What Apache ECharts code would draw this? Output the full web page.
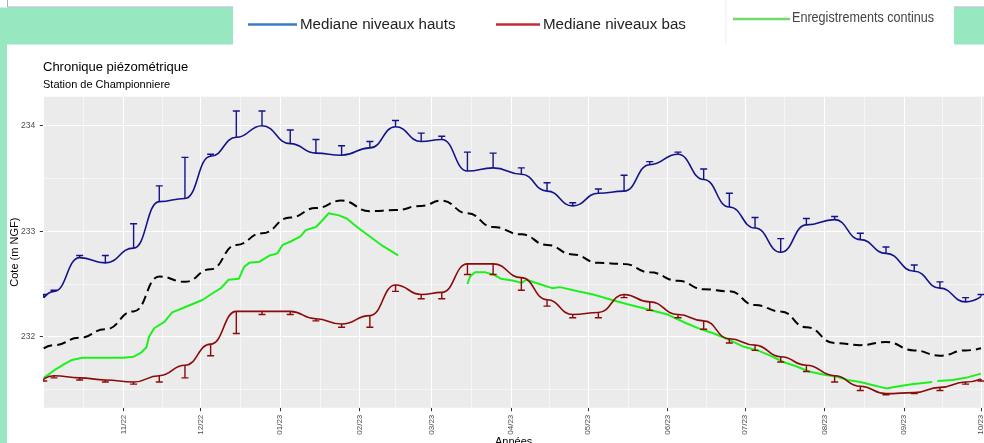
<!DOCTYPE html>
<html>
<head>
<meta charset="utf-8">
<title>Chronique piézométrique</title>
<script src="https://cdn.jsdelivr.net/npm/echarts@6/dist/echarts.min.js"></script>
<style>
  html, body { margin: 0; padding: 0; background: #fff; }
  #main { width: 984px; height: 443px; }
</style>
</head>
<body>
<div id="main"></div>
<script type="text/javascript">
// dates des médianes décadaires
var dekadDates = ['2022-10-01','2022-10-05','2022-10-15','2022-10-25','2022-11-05','2022-11-15','2022-11-25',
  '2022-12-05','2022-12-15','2022-12-25','2023-01-05','2023-01-15','2023-01-25','2023-02-05','2023-02-15',
  '2023-02-25','2023-03-05','2023-03-15','2023-03-25','2023-04-05','2023-04-15','2023-04-25','2023-05-05',
  '2023-05-15','2023-05-25','2023-06-05','2023-06-15','2023-06-25','2023-07-05','2023-07-15','2023-07-25',
  '2023-08-05','2023-08-15','2023-08-25','2023-09-05','2023-09-15','2023-09-25','2023-10-01'];

var hautsMediane = [232.37, 232.43, 232.75, 232.70, 232.84, 233.28, 233.31, 233.71, 233.89, 234.00,
  233.83, 233.74, 233.72, 233.79, 233.99, 233.85, 233.87, 233.57, 233.60, 233.54, 233.38, 233.24,
  233.36, 233.38, 233.63, 233.73, 233.49, 233.23, 233.03, 232.80, 233.06, 233.11, 232.92, 232.79,
  232.62, 232.46, 232.33, 232.38];
var hautsMax = [232.40, 232.44, 232.77, 232.77, 233.07, 233.43, 233.70, 233.73, 234.14, 234.14,
  233.96, 233.87, 233.81, 233.85, 234.05, 233.93, 233.90, 233.75, 233.74, 233.60, 233.46, 233.27,
  233.40, 233.53, 233.66, 233.75, 233.59, 233.36, 233.13, 232.93, 233.12, 233.14, 232.98, 232.85,
  232.68, 232.52, 232.37, 232.40];

var basMediane = [231.60, 231.63, 231.61, 231.59, 231.57, 231.63, 231.73, 231.93, 232.24, 232.24,
  232.24, 232.17, 232.12, 232.20, 232.49, 232.40, 232.42, 232.69, 232.69, 232.56, 232.35, 232.21,
  232.23, 232.40, 232.33, 232.21, 232.15, 231.98, 231.92, 231.81, 231.73, 231.63, 231.53, 231.46,
  231.47, 231.52, 231.57, 231.60];
var basMin = [231.58, 231.61, 231.59, 231.57, 231.55, 231.57, 231.61, 231.82, 232.03, 232.21,
  232.21, 232.15, 232.09, 232.09, 232.43, 232.36, 232.36, 232.59, 232.59, 232.44, 232.29, 232.18,
  232.18, 232.37, 232.25, 232.18, 232.07, 231.94, 231.87, 231.76, 231.67, 231.57, 231.49, 231.45,
  231.46, 231.49, 231.55, 231.58];

// courbe en tirets noirs
var moyenne = [231.89, 231.92, 231.99, 232.07, 232.24, 232.57, 232.52, 232.64, 232.87, 232.98,
  233.13, 233.22, 233.29, 233.19, 233.20, 233.24, 233.29, 233.17, 233.04, 232.97, 232.87, 232.78,
  232.70, 232.69, 232.61, 232.53, 232.45, 232.43, 232.30, 232.24, 232.09, 231.94, 231.92, 231.95,
  231.87, 231.82, 231.87, 231.89];

// enregistrements continus (null = pas de mesure)
var continuDates = ['2022-10-01','2022-10-05','2022-10-09','2022-10-12','2022-10-16','2022-10-22','2022-10-27',
  '2022-11-01','2022-11-05','2022-11-08','2022-11-10','2022-11-11','2022-11-13','2022-11-17','2022-11-20',
  '2022-11-24','2022-11-28','2022-12-02','2022-12-05','2022-12-09','2022-12-12','2022-12-16','2022-12-18',
  '2022-12-20','2022-12-24','2022-12-28','2022-12-31','2023-01-02','2023-01-05','2023-01-09','2023-01-11',
  '2023-01-15','2023-01-17','2023-01-20','2023-01-24','2023-01-27','2023-01-31','2023-02-05','2023-02-10',
  '2023-02-16','2023-02-17','2023-03-15','2023-03-16','2023-03-18','2023-03-22','2023-03-25','2023-03-28',
  '2023-04-02','2023-04-05','2023-04-07','2023-04-12','2023-04-17','2023-04-20','2023-04-27','2023-05-03',
  '2023-05-10','2023-05-16','2023-05-24','2023-06-01','2023-06-08','2023-06-14','2023-06-19','2023-06-25',
  '2023-06-30','2023-07-06','2023-07-11','2023-07-16','2023-07-21','2023-07-26','2023-08-01','2023-08-06',
  '2023-08-10','2023-08-15','2023-08-20','2023-08-25','2023-08-30','2023-09-04','2023-09-12','2023-09-13',
  '2023-09-14','2023-09-20','2023-09-25','2023-10-01'];
var continuValues = [231.61, 231.68, 231.74, 231.78, 231.80, 231.80, 231.80,
  231.80, 231.81, 231.85, 231.90, 232.00, 232.08, 232.14, 232.23,
  232.27, 232.31, 232.35, 232.40, 232.46, 232.54, 232.55, 232.66,
  232.70, 232.71, 232.77, 232.79, 232.87, 232.90, 232.95, 233.01,
  233.04, 233.09, 233.17, 233.15, 233.12, 233.04, 232.95, 232.86,
  232.77, null, 232.50, 232.57, 232.61, 232.61, 232.59, 232.55,
  232.53, 232.51, 232.54, 232.50, 232.46, 232.47, 232.43, 232.40,
  232.35, 232.31, 232.26, 232.21, 232.13, 232.07, 232.03, 231.97,
  231.91, 231.87, 231.82, 231.76, 231.72, 231.67, 231.64, 231.62,
  231.59, 231.57, 231.54, 231.51, 231.53, 231.55, 231.57, null,
  231.58, 231.59, 231.61, 231.65];

var monthTicks = ['2022-11-01','2022-12-01','2023-01-01','2023-02-01','2023-03-01','2023-04-01',
  '2023-05-01','2023-06-01','2023-07-01','2023-08-01','2023-09-01','2023-10-01'];
var monthLabels = ['11/22','12/22','01/23','02/23','03/23','04/23','05/23','06/23','07/23','08/23','09/23','10/23'];
var yTicks = [232, 233, 234];
var yMinor = [231.5, 232.5, 233.5];

function t(s) {
  var p = s.split('-');
  return Date.UTC(+p[0], +p[1] - 1, +p[2]);
}

var GREEN_BG = '#97e8c1';
var BLUE = '#13138c';
var RED = '#8b0a0a';

// lignes de la grille (majeures aux débuts de mois, mineures entre deux)
var majorX = ['2022-10-01'].concat(monthTicks).map(t);
var gridLines = [];
majorX.forEach(function (v, i) {
  gridLines.push({ xAxis: v, lineStyle: { width: 1.1 } });
  if (i > 0) gridLines.push({ xAxis: (v + majorX[i - 1]) / 2, lineStyle: { width: 0.55 } });
});
yTicks.forEach(function (v) { gridLines.push({ yAxis: v, lineStyle: { width: 1.1 } }); });
yMinor.forEach(function (v) { gridLines.push({ yAxis: v, lineStyle: { width: 0.55 } }); });

function errorBar(color) {
  return function (params, api) {
    var x = api.value(0);
    var a = api.coord([x, api.value(1)]);
    var b = api.coord([x, api.value(2)]);
    var hw = 3.5;
    return {
      type: 'group',
      children: [
        { type: 'line', shape: { x1: a[0], y1: a[1], x2: b[0], y2: b[1] },
          style: { stroke: color, lineWidth: 1.4 } },
        { type: 'line', shape: { x1: b[0] - hw, y1: b[1], x2: b[0] + hw, y2: b[1] },
          style: { stroke: color, lineWidth: 1.4 } }
      ]
    };
  };
}

var labelByTime = {};
monthTicks.forEach(function (d, i) { labelByTime[t(d)] = monthLabels[i]; });

var myChart = echarts.init(document.getElementById('main'));

myChart.setOption({
  animation: false,
  backgroundColor: '#fff',
  textStyle: { fontFamily: 'Liberation Sans' },
  title: {
    text: 'Chronique piézométrique',
    subtext: 'Station de Championniere',
    left: 43, top: 61, padding: 0, itemGap: 5,
    textStyle: { fontSize: 13, color: '#000', fontWeight: 'normal', fontFamily: 'Liberation Sans' },
    subtextStyle: { fontSize: 11, color: '#000', fontFamily: 'Liberation Sans' }
  },
  grid: {
    left: 43.3, top: 96.7, right: 0, bottom: 35.3,
    outerBoundsMode: 'none', containLabel: false,
    show: true, backgroundColor: '#ebebeb', borderWidth: 0
  },
  xAxis: {
    type: 'value',
    min: Date.UTC(2022, 8, 30, 20),
    max: Date.UTC(2023, 9, 2, 4),
    name: 'Années',
    nameLocation: 'middle',
    nameGap: 29,
    nameMoveOverlap: false,
    nameTextStyle: { fontSize: 11, color: '#000' },
    axisLine: { show: false },
    splitLine: { show: false },
    axisTick: { show: true, length: 3.5, lineStyle: { color: '#333', width: 1 }, customValues: monthTicks.map(t) },
    axisLabel: {
      customValues: monthTicks.map(t),
      rotate: 90, fontSize: 8, color: '#4d4d4d', margin: 7,
      formatter: function (v) { return labelByTime[v] || ''; }
    }
  },
  yAxis: {
    type: 'value',
    min: 231.327, max: 234.275,
    name: 'Cote (m NGF)',
    nameLocation: 'middle',
    nameRotate: 90,
    nameGap: 23,
    nameMoveOverlap: false,
    nameTextStyle: { fontSize: 11, color: '#000' },
    axisLine: { show: false },
    splitLine: { show: false },
    axisTick: { show: true, length: 3.5, lineStyle: { color: '#333', width: 1 }, customValues: yTicks },
    axisLabel: { customValues: yTicks, fontSize: 8.5, color: '#4d4d4d', margin: 8 }
  },
  series: [
    {
      name: 'moyenne', type: 'line', z: 2,
      data: dekadDates.map(function (d, i) { return [t(d), moyenne[i]]; }),
      showSymbol: false, smooth: 0.5, smoothMonotone: 'x', silent: true,
      lineStyle: { color: '#000', width: 2, type: [9, 5] },
      markLine: {
        z: 1, silent: true, symbol: ['none', 'none'], animation: false,
        label: { show: false },
        lineStyle: { color: '#fff', type: 'solid' },
        emphasis: { disabled: true },
        data: gridLines
      }
    },
    {
      name: 'Enregistrements continus', type: 'line', z: 2,
      data: continuDates.map(function (d, i) {
        return [t(d), continuValues[i] === null ? '-' : continuValues[i]];
      }),
      showSymbol: false, connectNulls: false, silent: true,
      lineStyle: { color: '#1ef01e', width: 2 }
    },
    {
      name: 'bas-barres', type: 'custom', z: 3, silent: true, clip: true,
      renderItem: errorBar(RED),
      encode: { x: 0, y: [1, 2] },
      data: dekadDates.map(function (d, i) { return [t(d), basMediane[i], basMin[i]]; })
    },
    {
      name: 'Mediane niveaux bas', type: 'line', z: 3,
      data: dekadDates.map(function (d, i) { return [t(d), basMediane[i]]; }),
      showSymbol: false, smooth: 0.5, smoothMonotone: 'x', silent: true,
      lineStyle: { color: RED, width: 1.6 }
    },
    {
      name: 'hauts-barres', type: 'custom', z: 3, silent: true, clip: true,
      renderItem: errorBar(BLUE),
      encode: { x: 0, y: [1, 2] },
      data: dekadDates.map(function (d, i) { return [t(d), hautsMediane[i], hautsMax[i]]; })
    },
    {
      name: 'Mediane niveaux hauts', type: 'line', z: 3,
      data: dekadDates.map(function (d, i) { return [t(d), hautsMediane[i]]; }),
      showSymbol: false, smooth: 0.5, smoothMonotone: 'x', silent: true,
      lineStyle: { color: BLUE, width: 1.6 }
    }
  ],
  graphic: [
    { type: 'rect', silent: true, shape: { x: 0, y: 7.5, width: 7, height: 436 }, style: { fill: GREEN_BG } },
    { type: 'rect', silent: true, shape: { x: 7, y: 7.5, width: 226, height: 37 }, style: { fill: GREEN_BG } },
    { type: 'rect', silent: true, shape: { x: 954, y: 7.5, width: 30, height: 37 }, style: { fill: GREEN_BG } },
    { type: 'line', silent: true, shape: { x1: 7.5, y1: 7, x2: 233, y2: 7 }, style: { stroke: '#9db0cf', lineWidth: 1 } },
    { type: 'line', silent: true, shape: { x1: 954, y1: 7, x2: 984, y2: 7 }, style: { stroke: '#9db0cf', lineWidth: 1 } },
    { type: 'line', silent: true, shape: { x1: 7.5, y1: 0, x2: 7.5, y2: 7 }, style: { stroke: '#9db0cf', lineWidth: 1 } },
    { type: 'line', silent: true, shape: { x1: 726, y1: 0, x2: 726, y2: 44 }, style: { stroke: '#efefef', lineWidth: 1 } },
    // légende
    { type: 'line', silent: true, shape: { x1: 248, y1: 24.5, x2: 297, y2: 24.5 }, style: { stroke: '#3b7dc4', lineWidth: 2.5 } },
    { type: 'text', silent: true, x: 300, y: 25, scaleX: 1.08,
      style: { text: 'Mediane niveaux hauts', fontSize: 14, fontFamily: 'Liberation Sans', fill: '#222', verticalAlign: 'middle' } },
    { type: 'line', silent: true, shape: { x1: 496, y1: 24.5, x2: 540, y2: 24.5 }, style: { stroke: '#be2f37', lineWidth: 2.5 } },
    { type: 'text', silent: true, x: 543, y: 25, scaleX: 1.08,
      style: { text: 'Mediane niveaux bas', fontSize: 14, fontFamily: 'Liberation Sans', fill: '#222', verticalAlign: 'middle' } },
    { type: 'line', silent: true, shape: { x1: 733, y1: 19, x2: 790, y2: 19 }, style: { stroke: '#72d872', lineWidth: 2.5 } },
    { type: 'text', silent: true, x: 792, y: 17.7, scaleX: 0.84,
      style: { text: 'Enregistrements continus', fontSize: 15, fontFamily: 'Liberation Sans', fill: '#444', verticalAlign: 'middle' } }
  ]
});
</script>
</body>
</html>
